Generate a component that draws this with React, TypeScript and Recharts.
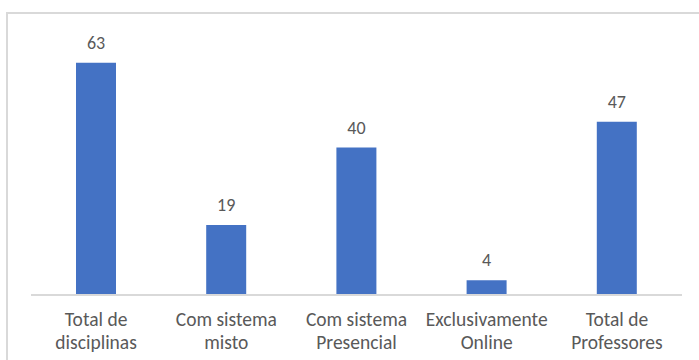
import React from 'react';
import { BarChart, Bar, XAxis, YAxis, LabelList } from 'recharts';

const categories = [
  'Total de\ndisciplinas',
  'Com sistema\nmisto',
  'Com sistema\nPresencial',
  'Exclusivamente\nOnline',
  'Total de\nProfessores',
];
const values = [63, 19, 40, 4, 47];

const data = categories.map((name, i) => ({ name, value: values[i] }));

const FONT = 'Carlito, Calibri, Lato, sans-serif';
const TEXT = '#595959';

const CategoryTick = (props: any) => {
  const { x, y, payload } = props;
  const lines = String(payload.value).split('\n');
  return (
    <text x={x} y={y} textAnchor="middle" fill={TEXT} fontSize={19.5} fontFamily={FONT}>
      {lines.map((line, i) => (
        <tspan key={i} x={x} dy={i === 0 ? 31 : 23}>
          {line}
        </tspan>
      ))}
    </text>
  );
};

const App: React.FC = () => {
  return (
    <div style={{ position: 'absolute', left: 0, top: 0, width: 699, height: 360, background: '#fff', overflow: 'hidden' }}>
      <div
        style={{
          position: 'absolute',
          left: 6,
          top: 12,
          width: 740,
          height: 400,
          border: '2px solid #d9d9d9',
        }}
      />
      <div style={{ position: 'absolute', left: 0, top: 0 }}>
        <BarChart width={699} height={360} data={data} margin={{ top: 37, right: 17, left: 31, bottom: 0 }}>
          <XAxis
            dataKey="name"
            height={65}
            tickLine={false}
            tickSize={0}
            tickMargin={0}
            axisLine={{ stroke: '#d9d9d9', strokeWidth: 2 }}
            tick={<CategoryTick />}
            interval={0}
          />
          <YAxis hide domain={[0, 70]} />
          <Bar dataKey="value" fill="#4472C4" barSize={40} isAnimationActive={false}>
            <LabelList dataKey="value" position="top" offset={14} fill={TEXT} fontSize={18} fontFamily={FONT} />
          </Bar>
        </BarChart>
      </div>
    </div>
  );
};

export default App;
